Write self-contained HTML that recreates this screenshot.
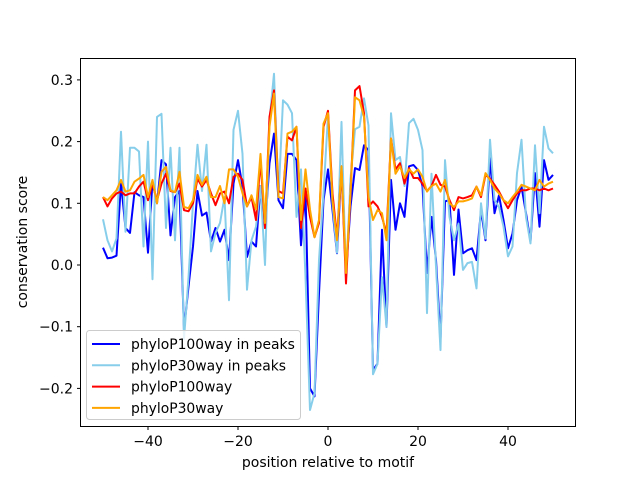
<!DOCTYPE html>
<html><head><meta charset="utf-8"><style>
body{margin:0;background:#fff}
text{font-family:"DejaVu Sans","Liberation Sans",sans-serif;fill:#000}
</style></head><body>
<svg id="chart" width="640" height="480" xmlns="http://www.w3.org/2000/svg">
<rect width="640" height="480" fill="#fff"/>
<g id="series"></g>
<rect x="80.5" y="58.5" width="495" height="368" fill="none" stroke="#000" stroke-width="1"/>
<g id="xticks"></g><g id="yticks"></g>
<text x="328" y="467" font-size="14" text-anchor="middle">position relative to motif</text>
<text transform="translate(27,242) rotate(-90)" font-size="14" text-anchor="middle">conservation score</text>
<g id="legend"></g>
</svg>
<script>
const positions = [];
for (let i = -50; i <= 50; i++) positions.push(i);
const p100peaks = [.028,.011,.012,.015,.133,.06,.052,.118,.113,.11,.02,.135,.1,.17,.163,.048,.11,.12,-.105,-.035,.03,.12,.08,.085,.038,.06,.038,.057,.008,.132,.17,.128,.013,.038,.03,.128,.06,.165,.213,.105,.092,.18,.18,.17,.032,.12,-.2,-.213,-.046,.105,.155,.089,.019,.16,-.013,.095,.157,.154,.194,.186,-.17,-.16,.057,-.1,.138,.057,.1,.078,.16,.162,.154,.128,-.013,.078,.008,-.12,.103,.105,-.016,.09,.019,.024,.027,.008,.089,.04,.173,.084,.113,.073,.027,.051,.105,.127,.084,.038,.149,.062,.17,.138,.146];
const p30peaks = [.074,.04,.022,.043,.216,.054,.19,.19,.184,.03,.2,-.023,.24,.245,.06,.19,.04,.19,-.12,-.02,.1,.195,.12,.195,.022,.052,.068,.11,-.057,.219,.25,.18,-.04,.04,.062,.128,0,.235,.31,.11,.267,.26,.246,.078,.155,-.019,-.235,-.208,.008,.116,.243,.1,.02,.232,-.02,.14,.22,.224,.27,.226,-.177,-.16,-.02,-.1,.246,.17,.175,.128,.23,.237,.219,.186,-.078,.148,-.003,-.138,.17,.078,.04,.067,-.008,.003,.005,-.038,.1,.043,.203,.105,.094,.062,.014,.03,.149,.203,.078,.035,.194,.084,.224,.189,.181];
const p100 = [.11,.095,.108,.116,.119,.113,.116,.116,.127,.135,.105,.132,.105,.132,.148,.12,.118,.132,.089,.087,.1,.14,.127,.138,.116,.097,.116,.119,.1,.143,.148,.138,.095,.11,.073,.17,.06,.24,.283,.12,.116,.208,.202,.224,.06,.124,.078,.045,.068,.224,.25,.116,.045,.155,-.03,.116,.283,.29,.246,.095,.103,.095,.078,.051,.205,.155,.165,.132,.157,.141,.141,.132,.12,.128,.146,.13,.127,.105,.089,.11,.108,.11,.113,.127,.11,.146,.14,.13,.119,.105,.092,.105,.116,.121,.121,.124,.124,.121,.124,.121,.124];
const p30 = [.11,.105,.113,.121,.138,.119,.121,.135,.14,.146,.11,.138,.1,.151,.159,.121,.118,.151,.094,.092,.105,.146,.13,.143,.11,.11,.128,.1,.155,.155,.143,.116,.095,.113,.09,.18,.068,.224,.278,.11,.108,.213,.216,.224,.073,.155,.09,.045,.073,.229,.246,.105,.04,.16,-.013,.116,.272,.267,.24,.11,.073,.089,.084,.04,.205,.148,.16,.141,.155,.148,.155,.143,.119,.128,.132,.119,.138,.1,.094,.103,.103,.105,.108,.127,.113,.149,.138,.124,.116,.105,.1,.11,.119,.13,.127,.124,.121,.138,.127,.132,.135];
const xTicks = [-40,-20,0,20,40];
const yTicks = [-0.2,-0.1,0.0,0.1,0.2,0.3];
const yTickLabels = ["−0.2","−0.1","0.0","0.1","0.2","0.3"];
const seriesNames = ["phyloP100way in peaks","phyloP30way in peaks","phyloP100way","phyloP30way"];
const seriesColors = ["#0000ff","#87ceeb","#ff0000","#ffa500"];
const seriesData = [p100peaks,p30peaks,p100,p30];

const X = v => 80.5 + (v + 55) / 110 * 495;
const Y = v => 265 - v * 617;
const NS = "http://www.w3.org/2000/svg";
const sg = document.getElementById('series');
seriesData.forEach((d, k) => {
  const p = document.createElementNS(NS, 'polyline');
  p.setAttribute('points', d.map((v, i) => X(positions[i]).toFixed(1) + ',' + Y(v).toFixed(1)).join(' '));
  p.setAttribute('fill', 'none');
  p.setAttribute('stroke', seriesColors[k]);
  p.setAttribute('stroke-width', '2');
  p.setAttribute('stroke-linejoin', 'round');
  
  
  sg.appendChild(p);
});
const xg = document.getElementById('xticks');
xTicks.forEach(t => {
  const l = document.createElementNS(NS, 'line');
  l.setAttribute('x1', X(t)); l.setAttribute('x2', X(t));
  l.setAttribute('y1', 426.5); l.setAttribute('y2', 430);
  l.setAttribute('stroke', '#000');
  
  
  xg.appendChild(l);
  const tx = document.createElementNS(NS, 'text');
  tx.setAttribute('x', X(t)); tx.setAttribute('y', 446);
  tx.setAttribute('font-size', '14'); tx.setAttribute('text-anchor', 'middle');
  tx.textContent = t < 0 ? '−' + (-t) : String(t);
  
  
  xg.appendChild(tx);
});
const yg = document.getElementById('yticks');
yTicks.forEach((t, i) => {
  const l = document.createElementNS(NS, 'line');
  l.setAttribute('x1', 77); l.setAttribute('x2', 80.5);
  l.setAttribute('y1', Y(t)); l.setAttribute('y2', Y(t));
  l.setAttribute('stroke', '#000');
  
  
  yg.appendChild(l);
  const tx = document.createElementNS(NS, 'text');
  tx.setAttribute('x', 73); tx.setAttribute('y', Y(t) + 5);
  tx.setAttribute('font-size', '14'); tx.setAttribute('text-anchor', 'end');
  tx.textContent = yTickLabels[i];
  
  
  yg.appendChild(tx);
});
const lg = document.getElementById('legend');
const box = document.createElementNS(NS, 'rect');
box.setAttribute('x', 86.5); box.setAttribute('y', 330.5); box.setAttribute('width', 214); box.setAttribute('height', 89);
box.setAttribute('rx', 3); box.setAttribute('fill', '#fff'); box.setAttribute('fill-opacity', '0.8'); box.setAttribute('stroke', '#ccc');


lg.appendChild(box);
seriesNames.forEach((n, k) => {
  const y = 344 + k * 21.3;
  const l = document.createElementNS(NS, 'line');
  l.setAttribute('x1', 92); l.setAttribute('x2', 120); l.setAttribute('y1', y); l.setAttribute('y2', y);
  l.setAttribute('stroke', seriesColors[k]); l.setAttribute('stroke-width', '2');
  
  
  lg.appendChild(l);
  const tx = document.createElementNS(NS, 'text');
  tx.setAttribute('x', 131); tx.setAttribute('y', y + 5);
  tx.setAttribute('font-size', '13.9');
  tx.textContent = n;
  
  
  lg.appendChild(tx);
});
</script>
</body></html>
